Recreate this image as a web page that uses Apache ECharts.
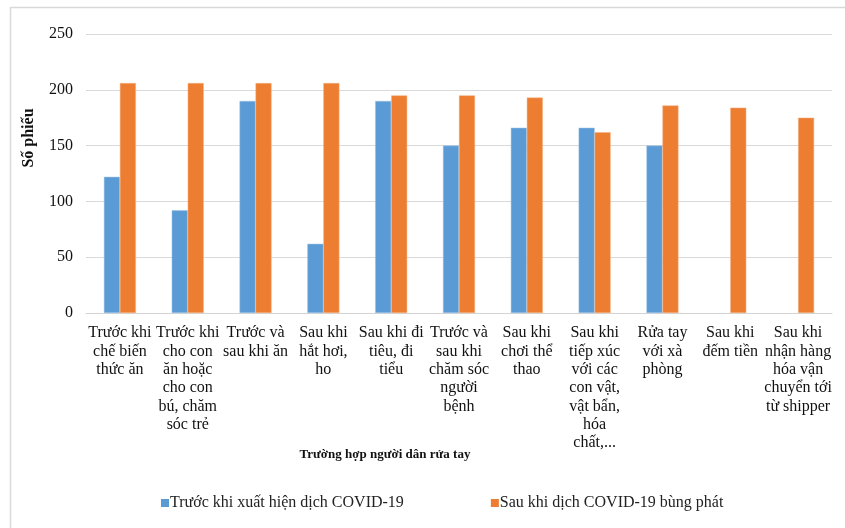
<!DOCTYPE html>
<html><head><meta charset="utf-8">
<script src="https://cdn.jsdelivr.net/npm/echarts@6/dist/echarts.min.js"></script>
<style>html,body{margin:0;padding:0;background:#fff}#c{width:845px;height:528px}</style>
</head><body><div id="c"></div>
<script>
const categories = [
  "Trước khi\nchế biến\nthức ăn",
  "Trước khi\ncho con\năn hoặc\ncho con\nbú, chăm\nsóc trẻ",
  "Trước và\nsau khi ăn",
  "Sau khi\nhắt hơi,\nho",
  "Sau khi đi\ntiêu, đi\ntiểu",
  "Trước và\nsau khi\nchăm sóc\nngười\nbệnh",
  "Sau khi\nchơi thể\nthao",
  "Sau khi\ntiếp xúc\nvới các\ncon vật,\nvật bẩn,\nhóa\nchất,...",
  "Rửa tay\nvới xà\nphòng",
  "Sau khi\nđếm tiền",
  "Sau khi\nnhận hàng\nhóa vận\nchuyển tới\ntừ shipper"
];
const seriesNames = ["Trước khi xuất hiện dịch COVID-19", "Sau khi dịch COVID-19 bùng phát"];
const beforeValues = [122, 92, 190, 62, 190, 150, 166, 166, 150, null, null];
const afterValues = [206, 206, 206, 206, 195, 195, 193, 162, 186, 184, 175];
const yAxisTitle = "Số phiếu";
const xAxisTitle = "Trường hợp người dân rửa tay";

const font = "'Liberation Serif', 'Times New Roman', serif";
const chart = echarts.init(document.getElementById('c'));
chart.setOption({
  animation: false,
  textStyle: { fontFamily: font },
  grid: { left: 86, right: 13, top: 34, bottom: 215, containLabel: false },
  legend: {
    left: 156, top: 490, itemWidth: 8, itemHeight: 8, itemGap: 87,
    icon: 'rect',
    itemStyle: { borderWidth: 0 },
    textStyle: { fontFamily: font, fontSize: 16, color: '#222', padding: [0, 0, 0, -4] },
    data: seriesNames
  },
  xAxis: {
    type: 'category', data: categories,
    axisLine: { lineStyle: { color: '#d4d4d4', width: 1 } },
    axisTick: { show: false },
    axisLabel: { interval: 0, color: '#111', fontFamily: font, fontSize: 16, lineHeight: 18.3, margin: 11 }
  },
  yAxis: {
    type: 'value', min: 0, max: 250, interval: 50,
    axisLine: { show: false }, axisTick: { show: false },
    axisLabel: { color: '#111', fontFamily: font, fontSize: 16, margin: 13 },
    splitLine: { lineStyle: { color: '#d9d9d9', width: 1 } }
  },
  series: [
    { name: seriesNames[0], type: 'bar', data: beforeValues, barWidth: 16, barGap: '0%',
      itemStyle: { color: '#5b9bd5', borderColor: '#9dc3e6', borderWidth: 0.5 } },
    { name: seriesNames[1], type: 'bar', data: afterValues, barWidth: 16,
      itemStyle: { color: '#ed7d31', borderColor: '#f4b183', borderWidth: 0.5 } }
  ],
  graphic: [
    { type: 'line', shape: { x1: 10, y1: 7.5, x2: 845, y2: 7.5 }, style: { stroke: '#d9d9d9', lineWidth: 1.5 } },
    { type: 'line', shape: { x1: 10.5, y1: 7, x2: 10.5, y2: 528 }, style: { stroke: '#d9d9d9', lineWidth: 1.5 } },
    { type: 'text', x: 29, y: 138, rotation: Math.PI / 2,
      style: { text: yAxisTitle, font: "bold 16px " + font, fill: '#111', align: 'center', verticalAlign: 'middle' } },
    { type: 'text', x: 385, y: 455,
      style: { text: xAxisTitle, font: "bold 13px " + font, fill: '#111', align: 'center', verticalAlign: 'middle' } }
  ]
});
</script></body></html>
